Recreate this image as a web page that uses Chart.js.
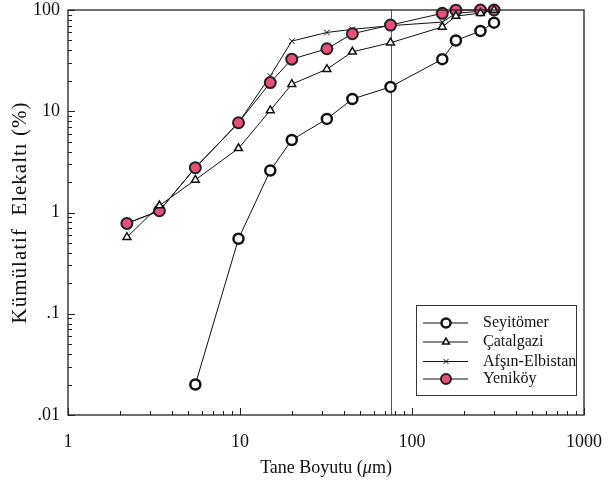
<!DOCTYPE html>
<html>
<head>
<meta charset="utf-8">
<script src="https://cdn.jsdelivr.net/npm/chart.js@4.4.0/dist/chart.umd.min.js"></script>
<style>
  html, body { margin: 0; padding: 0; background: #fff; }
  #wrap { width: 608px; height: 486px; }
</style>
</head>
<body>
<div id="wrap"><canvas id="chart"></canvas></div>
<script>
// Sieve sizes (um) and cumulative undersize (%)
const sizes = [2.2, 3.4, 5.5, 9.8, 15, 20, 32, 45, 75, 150, 180, 250, 300];
const seyitomer = [null, null, 0.02, 0.55, 2.6, 5.2, 8.4, 13.2, 17.4, 32.7, 50, 62, 75];
const catalgazi = [0.57, 1.17, 2.1, 4.3, 10.2, 18.5, 26, 38.6, 47.5, 68, 87, 93, 100];
const afsin = [0.78, 1.04, 2.77, 7.7, 22.3, 49.3, 60, 64.4, 70, 76, 93, 97, 99];
const yenikoy = [0.78, 1.04, 2.77, 7.7, 19.2, 32.7, 41.4, 58.3, 71, 92.7, 99.5, 100, 100];

const xTicks = [1, 10, 100, 1000];
const yTicks = [0.01, 0.1, 1, 10, 100];
const yTickLabels = ['.01', '.1', '1', '10', '100'];
const cutSize = 75;

const serif = '"Liberation Serif", "DejaVu Serif", serif';

function toPoints(arr) {
    return sizes.map((x, i) => ({ x: x, y: arr[i] })).filter(p => p.y != null);
}

// dataset order: index 0 is painted last (on top)
const datasets = [
    { label: 'Seyitömer', data: toPoints(seyitomer), pointStyle: 'circle', pointRadius: 5,
      pointBorderWidth: 2.5, pointBackgroundColor: '#fff', pointBorderColor: '#111' },
    { label: 'Çatalgazi', data: toPoints(catalgazi), pointStyle: 'triangle', pointRadius: 4.5,
      pointBorderWidth: 1.5, pointBackgroundColor: '#fff', pointBorderColor: '#111' },
    { label: 'Yeniköy', data: toPoints(yenikoy), pointStyle: 'circle', pointRadius: 5.5,
      pointBorderWidth: 2, pointBackgroundColor: '#e8507a', pointBorderColor: '#222' },
    { label: 'Afşın-Elbistan', data: toPoints(afsin), pointStyle: 'crossRot', pointRadius: 4,
      pointBorderWidth: 1, pointBackgroundColor: '#111', pointBorderColor: '#111' }
];
datasets.forEach(d => {
    d.borderColor = '#111';
    d.borderWidth = 1;
    d.showLine = true;
    d.clip = false;
    d.pointHoverRadius = d.pointRadius;
});

const legendOrder = ['Seyitömer', 'Çatalgazi', 'Afşın-Elbistan', 'Yeniköy'];

// frame, inward ticks, 75 um line
const framePlugin = {
    id: 'frame',
    beforeDatasetsDraw(chart) {
        const { ctx, chartArea: a, scales } = chart;
        ctx.save();
        ctx.strokeStyle = '#555';
        ctx.lineWidth = 1;
        const xc = Math.round(scales.x.getPixelForValue(cutSize)) + 0.5;
        ctx.beginPath();
        ctx.moveTo(xc, a.top);
        ctx.lineTo(xc, a.bottom);
        ctx.stroke();
        ctx.restore();
    },
    afterDraw(chart) {
        const { ctx, chartArea: a, scales } = chart;
        ctx.save();
        ctx.strokeStyle = '#222';
        ctx.lineWidth = 1.3;
        ctx.strokeRect(a.left, a.top, a.right - a.left, a.bottom - a.top);
        ctx.lineWidth = 1;
        ctx.beginPath();
        for (let d = 1; d < 1000; d *= 10) {
            for (let m = 1; m <= 10; m++) {
                const v = d * m;
                if (v > 1000) continue;
                const px = Math.round(scales.x.getPixelForValue(v)) + 0.5;
                const len = (m === 1 || m === 10) ? 7 : 4;
                ctx.moveTo(px, a.bottom);
                ctx.lineTo(px, a.bottom - len);
            }
        }
        for (let d = 0.01; d < 100; d *= 10) {
            for (let m = 1; m <= 10; m++) {
                const v = d * m;
                const py = Math.round(scales.y.getPixelForValue(v)) + 0.5;
                const len = (m === 1 || m === 10) ? 7 : 4;
                ctx.moveTo(a.left, py);
                ctx.lineTo(a.left + len, py);
            }
        }
        ctx.stroke();

        // axis titles
        ctx.fillStyle = '#111';
        ctx.textBaseline = 'middle';
        const parts = [['Tane Boyutu (', ''], ['\u03bc', 'italic '], ['m)', '']];
        let total = 0;
        parts.forEach(p => { ctx.font = p[1] + '18px ' + serif; total += ctx.measureText(p[0]).width; });
        let tx = (a.left + a.right) / 2 - total / 2;
        ctx.textAlign = 'left';
        parts.forEach(p => {
            ctx.font = p[1] + '18px ' + serif;
            ctx.fillText(p[0], tx, 468);
            tx += ctx.measureText(p[0]).width;
        });
        ctx.save();
        ctx.translate(20, (a.top + a.bottom) / 2);
        ctx.rotate(-Math.PI / 2);
        ctx.textAlign = 'center';
        ctx.font = '21px ' + serif;
        ctx.letterSpacing = '1px';
        ctx.fillText('Kümülatif  Elekaltı (%)', 0, 0);
        ctx.restore();

        // legend box
        const bx = 416.5, by = 305.5, bw = 160, bh = 90;
        ctx.fillStyle = '#fff';
        ctx.fillRect(bx, by, bw, bh);
        ctx.strokeStyle = '#333';
        ctx.lineWidth = 1;
        ctx.strokeRect(bx, by, bw, bh);
        const rows = [323, 342, 361.5, 379];
        legendOrder.forEach((name, i) => {
            const ds = datasets.find(d => d.label === name);
            const y = rows[i];
            ctx.strokeStyle = '#111';
            ctx.lineWidth = 1;
            ctx.beginPath();
            ctx.moveTo(423, y);
            ctx.lineTo(468, y);
            ctx.stroke();
            ctx.fillStyle = ds.pointBackgroundColor;
            ctx.strokeStyle = ds.pointBorderColor;
            ctx.lineWidth = ds.pointBorderWidth;
            Chart.helpers.drawPoint(ctx, {
                pointStyle: ds.pointStyle, radius: ds.pointRadius - 0.5,
                rotation: 0, borderWidth: ds.pointBorderWidth
            }, 446, y);
            ctx.fillStyle = '#111';
            ctx.font = '16px ' + serif;
            ctx.textAlign = 'left';
            ctx.fillText(name, 483, y);
        });
        ctx.restore();
    }
};

new Chart(document.getElementById('chart'), {
    type: 'scatter',
    data: { datasets: datasets },
    options: {
        responsive: true,
        maintainAspectRatio: false,
        animation: false,
        events: [],
        layout: { padding: { top: 10, right: 24, left: 0, bottom: 0 } },
        plugins: { legend: { display: false }, tooltip: { enabled: false } },
        scales: {
            x: {
                type: 'logarithmic', min: 1, max: 1000,
                grid: { display: false, drawTicks: false },
                border: { display: false },
                afterBuildTicks: s => { s.ticks = xTicks.map(v => ({ value: v })); },
                afterFit: s => { s.height = 71; s.paddingLeft = 0; s.paddingRight = 0; },
                ticks: {
                    autoSkip: false, maxRotation: 0, padding: 16, color: '#111',
                    font: { family: serif, size: 18 },
                    callback: v => String(v)
                }
            },
            y: {
                type: 'logarithmic', min: 0.01, max: 100,
                grid: { display: false, drawTicks: false },
                border: { display: false },
                afterBuildTicks: s => { s.ticks = yTicks.map(v => ({ value: v })); },
                afterFit: s => { s.width = 68; s.paddingTop = 0; s.paddingBottom = 0; },
                ticks: {
                    autoSkip: false, padding: 8, color: '#111',
                    font: { family: serif, size: 18 },
                    callback: v => yTickLabels[yTicks.indexOf(v)]
                }
            }
        }
    },
    plugins: [framePlugin]
});
</script>
</body>
</html>
